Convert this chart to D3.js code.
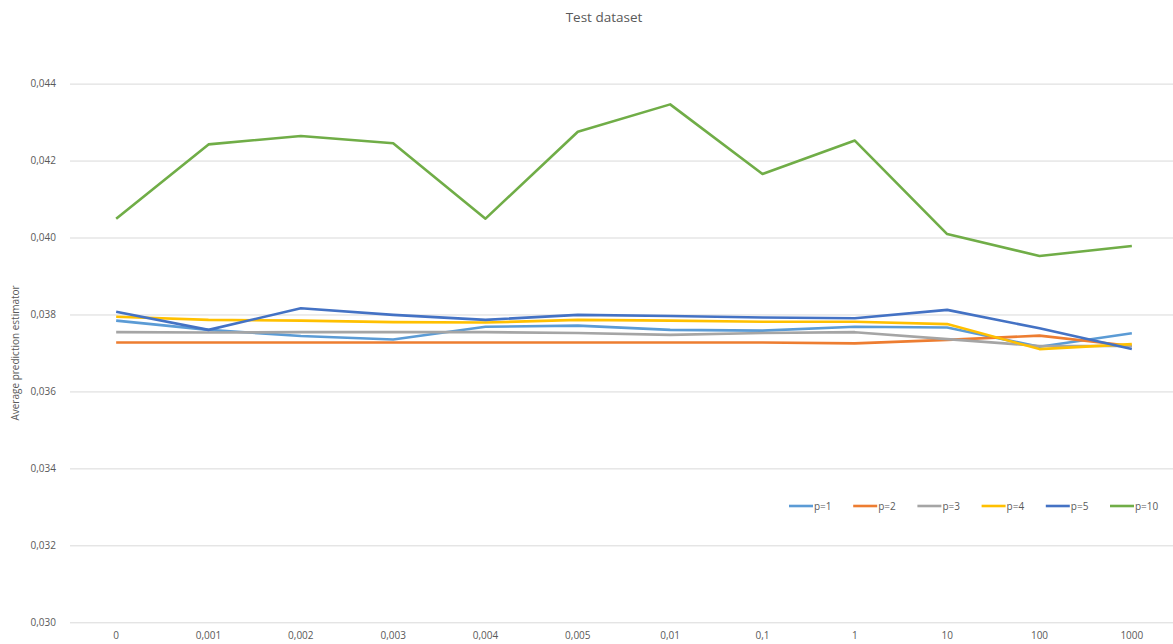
<!DOCTYPE html>
<html>
<head>
<meta charset="utf-8">
<script src="https://cdn.jsdelivr.net/npm/d3@7"></script>
<style>
  html, body { margin: 0; padding: 0; background: #ffffff; }
  svg { display: block; }
  text { font-family: "Open Sans", "Noto Sans", sans-serif; fill: #595959; }
</style>
</head>
<body>
<svg id="chart" width="1173" height="644"></svg>
<script>
// ---- data ----
const categories = ["0", "0,001", "0,002", "0,003", "0,004", "0,005", "0,01", "0,1", "1", "10", "100", "1000"];
const seriesNames = ["p=1", "p=2", "p=3", "p=4", "p=5", "p=10"];
const p1  = [0.03784, 0.03760, 0.03744, 0.03735, 0.03768, 0.03771, 0.03760, 0.03758, 0.03768, 0.03766, 0.03716, 0.03751];
const p2  = [0.03727, 0.03727, 0.03727, 0.03727, 0.03727, 0.03727, 0.03727, 0.03727, 0.03725, 0.03734, 0.03745, 0.03718];
const p3  = [0.03754, 0.03753, 0.03754, 0.03754, 0.03754, 0.03752, 0.03747, 0.03752, 0.03754, 0.03736, 0.03718, 0.03718];
const p4  = [0.03794, 0.03786, 0.03784, 0.03780, 0.03779, 0.03786, 0.03784, 0.03781, 0.03781, 0.03775, 0.03710, 0.03723];
const p5  = [0.03807, 0.03760, 0.03816, 0.03799, 0.03786, 0.03799, 0.03796, 0.03792, 0.03790, 0.03812, 0.03764, 0.03710];
const p10 = [0.04049, 0.04242, 0.04264, 0.04245, 0.04049, 0.04275, 0.04346, 0.04165, 0.04252, 0.04009, 0.03952, 0.03978];
const seriesValues = [p1, p2, p3, p4, p5, p10];
const colors = ["#5B9BD5", "#ED7D31", "#A5A5A5", "#FFC000", "#4472C4", "#70AD47"];
const yTicks = [0.030, 0.032, 0.034, 0.036, 0.038, 0.040, 0.042, 0.044];
const titleText = "Test dataset";
const yTitle = "Average prediction estimator";

// ---- layout ----
const svg = d3.select("#chart");
const plot = { left: 70, right: 1178, top: 83.6, bottom: 622.3 };

const x = d3.scaleBand().domain(categories).range([plot.left, plot.right]);
const y = d3.scaleLinear().domain([0.030, 0.044]).range([plot.bottom, plot.top]);
const fmt = v => d3.format(".3f")(v).replace(".", ",");

// gridlines
const yAxis = d3.axisLeft(y).tickValues(yTicks).tickSize(-(plot.right - plot.left)).tickPadding(14).tickFormat(fmt);
const gy = svg.append("g").attr("transform", `translate(${plot.left},0)`).call(yAxis);
gy.select(".domain").remove();
gy.selectAll(".tick line").attr("stroke", "#d9d9d9").attr("stroke-width", 1);
gy.selectAll(".tick text").attr("font-size", "10px").attr("fill", "#595959");

// x axis labels
const xAxis = d3.axisBottom(x).tickSize(0).tickPadding(10);
const gx = svg.append("g").attr("transform", `translate(0,${plot.bottom})`).call(xAxis);
gx.select(".domain").remove();
gx.selectAll(".tick text").attr("font-size", "10px").attr("fill", "#595959");

// lines
const line = d3.line()
  .x((d, i) => x(categories[i]) + x.bandwidth() / 2)
  .y(d => y(d));

seriesValues.forEach((vals, i) => {
  svg.append("path")
    .datum(vals)
    .attr("fill", "none")
    .attr("stroke", colors[i])
    .attr("stroke-width", 2.6)
    .attr("stroke-linejoin", "round")
    .attr("d", line);
});

// title
svg.append("text")
  .attr("x", 604).attr("y", 22)
  .attr("text-anchor", "middle")
  .attr("font-size", "13.5px")
  .attr("fill", "#595959")
  .text(titleText);

// y axis title
svg.append("text")
  .attr("transform", `translate(19,${(plot.top + plot.bottom) / 2}) rotate(-90)`)
  .attr("text-anchor", "middle")
  .attr("font-size", "10px")
  .attr("fill", "#595959")
  .text(yTitle);

// legend
const legendX0 = 789, legendStep = 64.2, legendY = 506;
const lg = svg.append("g");
seriesNames.forEach((name, i) => {
  const gx0 = legendX0 + i * legendStep;
  lg.append("line")
    .attr("x1", gx0).attr("x2", gx0 + 24)
    .attr("y1", legendY).attr("y2", legendY)
    .attr("stroke", colors[i]).attr("stroke-width", 2.6);
  lg.append("text")
    .attr("x", gx0 + 25).attr("y", legendY + 3.5)
    .attr("font-size", "10px")
    .attr("fill", "#595959")
    .text(name);
});
</script>
</body>
</html>
